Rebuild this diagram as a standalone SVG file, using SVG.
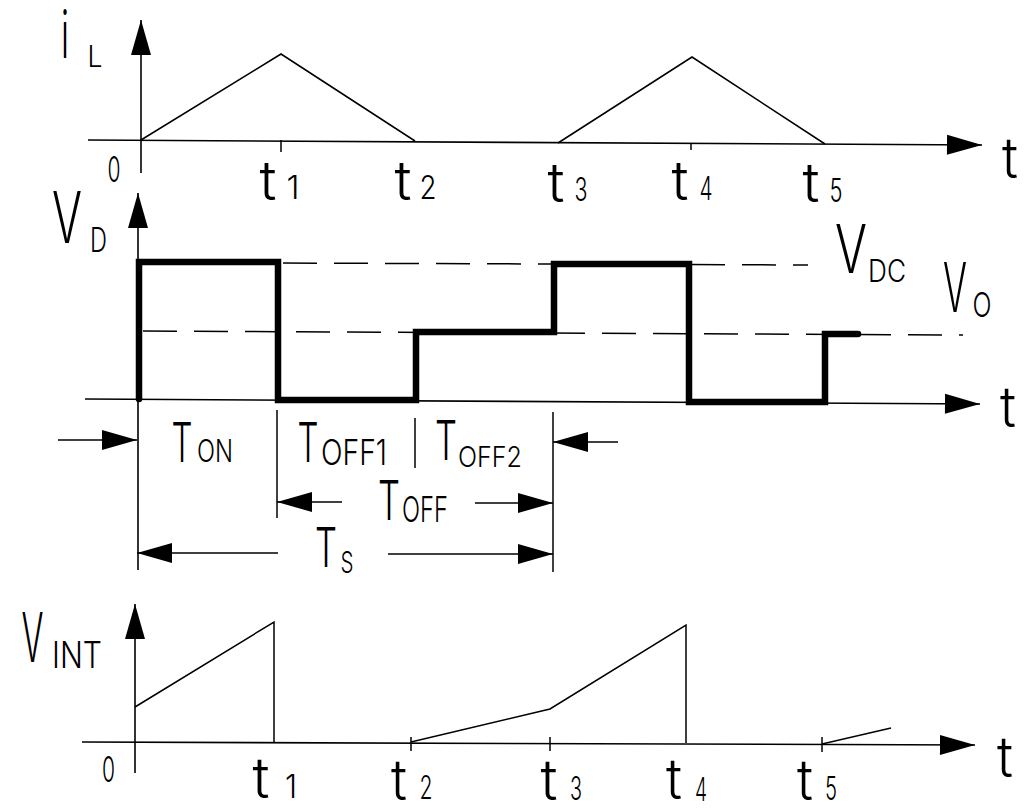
<svg xmlns="http://www.w3.org/2000/svg" width="1029" height="810" viewBox="0 0 1029 810">
<style>
.ln{fill:none;stroke:#000;stroke-width:1.5}
.ax{fill:none;stroke:#000;stroke-width:1.6}
.dash{fill:none;stroke:#000;stroke-width:1.5;stroke-dasharray:34 17}
.wave{fill:none;stroke:#000;stroke-width:6.5;stroke-linejoin:miter;stroke-linecap:round}
text{font-family:Inter,"Liberation Sans",sans-serif;font-weight:300;fill:#000;text-anchor:middle}
</style>
<defs>
<marker id="ah" markerUnits="userSpaceOnUse" markerWidth="36" markerHeight="22" refX="35" refY="10" orient="auto" overflow="visible">
<path d="M0,0 L35,10 L0,20 Z" fill="#000"/>
</marker>
</defs>
<rect width="1029" height="810" fill="#fff"/>

<g id="plot-iL">
<line class="ax" x1="141" y1="173" x2="141" y2="20" marker-end="url(#ah)"/>
<line class="ax" x1="88" y1="140" x2="982" y2="145" marker-end="url(#ah)"/>
<polyline class="ln" points="141,140 281,54 415,141"/>
<polyline class="ln" points="558,143 692,57 825,144"/>
<line class="ln" x1="281" y1="140" x2="281" y2="152"/>
<line class="ln" x1="691" y1="143" x2="691" y2="150"/>
<text x="65" y="58" font-size="66" textLength="8" lengthAdjust="spacingAndGlyphs">i</text>
<text x="95" y="67" font-size="30" textLength="15" lengthAdjust="spacingAndGlyphs">L</text>
<text x="114" y="182" font-size="35" textLength="13" lengthAdjust="spacingAndGlyphs">0</text>
<text x="268" y="200" font-size="54" textLength="17" lengthAdjust="spacingAndGlyphs">t</text>
<text x="293" y="199" font-size="32" textLength="13" lengthAdjust="spacingAndGlyphs">1</text>
<text x="403" y="200" font-size="54" textLength="17" lengthAdjust="spacingAndGlyphs">t</text>
<text x="428" y="199" font-size="32" textLength="17" lengthAdjust="spacingAndGlyphs">2</text>
<text x="556" y="202" font-size="54" textLength="17" lengthAdjust="spacingAndGlyphs">t</text>
<text x="581" y="201" font-size="32" textLength="13" lengthAdjust="spacingAndGlyphs">3</text>
<text x="680" y="200" font-size="54" textLength="17" lengthAdjust="spacingAndGlyphs">t</text>
<text x="706" y="200" font-size="32" textLength="13" lengthAdjust="spacingAndGlyphs">4</text>
<text x="811" y="202" font-size="54" textLength="17" lengthAdjust="spacingAndGlyphs">t</text>
<text x="836" y="202" font-size="32" textLength="13" lengthAdjust="spacingAndGlyphs">5</text>
<text x="1010" y="178" font-size="56" textLength="16" lengthAdjust="spacingAndGlyphs">t</text>
</g>

<g id="plot-VD">
<line class="ax" x1="138" y1="570" x2="138" y2="193" marker-end="url(#ah)"/>
<line class="ax" x1="85" y1="399" x2="980" y2="404" marker-end="url(#ah)"/>
<line class="dash" x1="283" y1="263" x2="808" y2="265"/>
<line class="dash" x1="143" y1="331" x2="963" y2="335"/>
<path class="wave" d="M139,399 V262 H278 V400 H416 V332 H554 V264 H689 V402 H825 V334 H858"/>
<text x="67" y="243" font-size="72" textLength="30" lengthAdjust="spacingAndGlyphs">V</text>
<text x="98.5" y="252" font-size="34" textLength="17" lengthAdjust="spacingAndGlyphs">D</text>
<text x="851" y="273" font-size="67" textLength="32" lengthAdjust="spacingAndGlyphs">V</text>
<text x="887" y="282" font-size="31" textLength="38" lengthAdjust="spacingAndGlyphs">DC</text>
<text x="955" y="312" font-size="69" textLength="24" lengthAdjust="spacingAndGlyphs">V</text>
<text x="982" y="317" font-size="34" textLength="19" lengthAdjust="spacingAndGlyphs">O</text>
<text x="1008" y="427" font-size="56" textLength="16" lengthAdjust="spacingAndGlyphs">t</text>
</g>

<g id="timing">
<line class="ln" x1="277" y1="410" x2="277" y2="518"/>
<line class="ln" x1="415" y1="418" x2="415" y2="468"/>
<line class="ln" x1="553" y1="412" x2="553" y2="572"/>
<line class="ln" x1="58" y1="440" x2="137" y2="440" marker-end="url(#ah)"/>
<line class="ln" x1="618" y1="442" x2="553" y2="442" marker-end="url(#ah)"/>
<line class="ln" x1="342" y1="502" x2="277" y2="502" marker-end="url(#ah)"/>
<line class="ln" x1="475" y1="503" x2="553" y2="503" marker-end="url(#ah)"/>
<line class="ln" x1="278" y1="553" x2="137" y2="553" marker-end="url(#ah)"/>
<line class="ln" x1="388" y1="554" x2="553" y2="554" marker-end="url(#ah)"/>
<text x="182" y="462" font-size="55" textLength="21" lengthAdjust="spacingAndGlyphs">T</text>
<text x="215" y="462" font-size="31" textLength="36" lengthAdjust="spacingAndGlyphs">ON</text>
<text x="308" y="462" font-size="55" textLength="21" lengthAdjust="spacingAndGlyphs">T</text>
<text x="354" y="465" font-size="35" textLength="66" lengthAdjust="spacingAndGlyphs">OFF1</text>
<text x="446" y="460" font-size="55" textLength="22" lengthAdjust="spacingAndGlyphs">T</text>
<text x="490" y="467" font-size="29" textLength="64" lengthAdjust="spacingAndGlyphs">OFF2</text>
<text x="389" y="520" font-size="55" textLength="22" lengthAdjust="spacingAndGlyphs">T</text>
<text x="425" y="522" font-size="35" textLength="46" lengthAdjust="spacingAndGlyphs">OFF</text>
<text x="326" y="567" font-size="55" textLength="22" lengthAdjust="spacingAndGlyphs">T</text>
<text x="347" y="573" font-size="30" textLength="13" lengthAdjust="spacingAndGlyphs">S</text>
</g>

<g id="plot-VINT">
<line class="ax" x1="135" y1="773" x2="135" y2="604" marker-end="url(#ah)"/>
<line class="ax" x1="82" y1="742" x2="975" y2="745" marker-end="url(#ah)"/>
<polyline class="ln" points="135,707 274,622 274,742"/>
<polyline class="ln" points="411,742 550,709 686,625 686,743"/>
<line class="ln" x1="822" y1="744" x2="891" y2="728"/>
<line class="ln" x1="411" y1="737" x2="411" y2="751"/>
<line class="ln" x1="550" y1="737" x2="550" y2="751"/>
<line class="ln" x1="822" y1="737" x2="822" y2="752"/>
<text x="32.5" y="662" font-size="68" textLength="22" lengthAdjust="spacingAndGlyphs">V</text>
<text x="77" y="668" font-size="37" textLength="50" lengthAdjust="spacingAndGlyphs">INT</text>
<text x="108.5" y="782" font-size="35" textLength="13" lengthAdjust="spacingAndGlyphs">0</text>
<text x="261" y="798" font-size="56" textLength="17" lengthAdjust="spacingAndGlyphs">t</text>
<text x="291" y="798" font-size="32" textLength="12" lengthAdjust="spacingAndGlyphs">1</text>
<text x="399" y="800" font-size="56" textLength="16" lengthAdjust="spacingAndGlyphs">t</text>
<text x="426" y="799" font-size="32" textLength="13" lengthAdjust="spacingAndGlyphs">2</text>
<text x="549" y="800" font-size="56" textLength="17" lengthAdjust="spacingAndGlyphs">t</text>
<text x="576" y="800" font-size="32" textLength="12" lengthAdjust="spacingAndGlyphs">3</text>
<text x="674" y="799" font-size="56" textLength="16" lengthAdjust="spacingAndGlyphs">t</text>
<text x="701" y="801" font-size="32" textLength="12" lengthAdjust="spacingAndGlyphs">4</text>
<text x="805" y="800" font-size="56" textLength="16" lengthAdjust="spacingAndGlyphs">t</text>
<text x="831" y="800" font-size="32" textLength="12" lengthAdjust="spacingAndGlyphs">5</text>
<text x="1005" y="777" font-size="56" textLength="16" lengthAdjust="spacingAndGlyphs">t</text>
</g>
</svg>
